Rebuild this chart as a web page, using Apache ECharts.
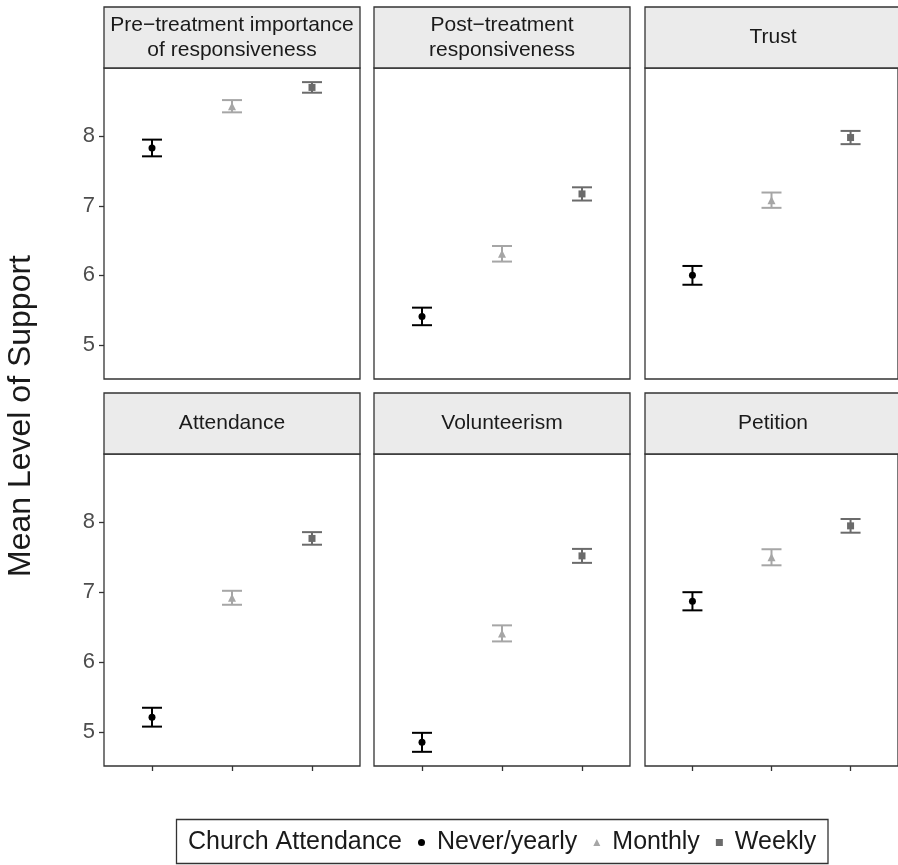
<!DOCTYPE html>
<html>
<head>
<meta charset="utf-8">
<script src="https://cdn.jsdelivr.net/npm/echarts@6/dist/echarts.min.js"></script>
<style>html,body{margin:0;padding:0;background:#fff}#c{width:898px;height:865px}</style>
</head>
<body>
<div id="c"></div>
<script>
// ---- data ----
const panels = ['Pre\u2212treatment importance\nof responsiveness', 'Post\u2212treatment\nresponsiveness', 'Trust', 'Attendance', 'Volunteerism', 'Petition'];
const groups = ['Never/yearly', 'Monthly', 'Weekly'];
const groupX = [1, 2, 3];
const neverMean = [7.83, 5.41, 6.00, 5.21, 4.85, 6.87];
const neverErr = [0.12, 0.126, 0.135, 0.135, 0.136, 0.13];
const monthlyMean = [8.43, 6.31, 7.08, 6.92, 6.41, 7.50];
const monthlyErr = [0.088, 0.112, 0.11, 0.10, 0.115, 0.115];
const weeklyMean = [8.70, 7.17, 7.98, 7.77, 7.52, 7.95];
const weeklyErr = [0.076, 0.095, 0.095, 0.09, 0.10, 0.098];
const yTicks = [5, 6, 7, 8];
const yMin = 4.511, yMax = 8.979;
const xMin = 0.4, xMax = 3.6;
const yTitle = 'Mean Level of Support';
const legendTitle = 'Church Attendance';

// ---- styling / layout ----
const FONT = 'Liberation Sans, Arial, Helvetica, sans-serif';
const groupColors = ['#000000', '#A6A6A6', '#6B6B6B'];
const groupSymbols = ['circle', 'triangle', 'rect'];
const groupSymbolSize = [7, 8, 7];
const means = [neverMean, monthlyMean, weeklyMean];
const errs = [neverErr, monthlyErr, weeklyErr];
const colLeft = [104, 374, 645];
const panelW = 256;
const rowTop = [68, 454];
const panelH = [311, 312];
const stripTop = [7, 393];
const stripH = 61;

const grids = [], xAxes = [], yAxes = [], series = [], graphics = [];
panels.forEach((title, i) => {
  const col = i % 3, row = Math.floor(i / 3);
  grids.push({
    left: colLeft[col], top: rowTop[row], width: panelW, height: panelH[row],
    show: true, borderColor: '#333333', borderWidth: 1.3, backgroundColor: '#ffffff',
    containLabel: false
  });
  xAxes.push({
    type: 'value', gridIndex: i, min: xMin, max: xMax,
    axisLine: { show: false }, splitLine: { show: false },
    axisTick: { show: row === 1, customValues: groupX, length: 5, lineStyle: { color: '#333333', width: 1.3 } },
    axisLabel: { show: false }
  });
  yAxes.push({
    type: 'value', gridIndex: i, min: yMin, max: yMax,
    axisLine: { show: false }, splitLine: { show: false },
    axisTick: { show: col === 0, customValues: yTicks, length: 5, lineStyle: { color: '#333333', width: 1.3 } },
    axisLabel: { show: col === 0, customValues: yTicks, margin: 9, color: '#4D4D4D', fontSize: 22, fontFamily: FONT }
  });
  groups.forEach((g, k) => {
    const m = means[k][i], e = errs[k][i];
    series.push({
      type: 'custom', name: g, xAxisIndex: i, yAxisIndex: i, silent: true,
      encode: { x: 0, y: [1, 2] },
      data: [[groupX[k], m - e, m + e]],
      renderItem: (params, api) => {
        const x = api.value(0);
        const lo = api.coord([x, api.value(1)]);
        const hi = api.coord([x, api.value(2)]);
        const hw = 10;
        const st = { stroke: groupColors[k], lineWidth: 2 };
        return { type: 'group', children: [
          { type: 'line', shape: { x1: hi[0], y1: hi[1], x2: lo[0], y2: lo[1] }, style: st },
          { type: 'line', shape: { x1: hi[0] - hw, y1: hi[1], x2: hi[0] + hw, y2: hi[1] }, style: st },
          { type: 'line', shape: { x1: lo[0] - hw, y1: lo[1], x2: lo[0] + hw, y2: lo[1] }, style: st }
        ] };
      },
      z: 2
    });
    series.push({
      type: 'scatter', name: g, xAxisIndex: i, yAxisIndex: i, silent: true,
      symbol: groupSymbols[k], symbolSize: groupSymbolSize[k],
      itemStyle: { color: groupColors[k], opacity: 1 },
      data: [[groupX[k], m]], z: 3
    });
  });
  graphics.push({
    type: 'rect', shape: { x: colLeft[col], y: stripTop[row], width: panelW, height: stripH },
    style: { fill: '#EBEBEB', stroke: '#333333', lineWidth: 1.3 }, z: 1
  });
  graphics.push({
    type: 'text', x: colLeft[col] + panelW / 2, y: stripTop[row] + stripH / 2,
    style: { text: title, fill: '#1A1A1A', font: '21px ' + FONT, align: 'center', verticalAlign: 'middle', lineHeight: 24.5 }, z: 2
  });
});

graphics.push({
  type: 'text', x: 21, y: 416, rotation: Math.PI / 2,
  style: { text: yTitle, fill: '#1A1A1A', font: '32px ' + FONT, align: 'center', verticalAlign: 'middle' }
});
graphics.push({
  type: 'rect', shape: { x: 176.5, y: 819.5, width: 651.5, height: 44 },
  style: { fill: 'none', stroke: '#333333', lineWidth: 1.3 }
});
graphics.push({
  type: 'text', x: 188, y: 842.5,
  style: { text: legendTitle, fill: '#1A1A1A', font: '25px ' + FONT, align: 'left', verticalAlign: 'middle' }
});

const chart = echarts.init(document.getElementById('c'), null, { renderer: 'canvas' });
chart.setOption({
  animation: false,
  backgroundColor: '#ffffff',
  grid: grids, xAxis: xAxes, yAxis: yAxes, series: series,
  legend: {
    left: 418, top: 830, orient: 'horizontal', padding: 0,
    itemWidth: 7, itemHeight: 7, itemGap: 16, selectedMode: false,
    textStyle: { fontSize: 25, fontFamily: FONT, color: '#1A1A1A', lineHeight: 25, padding: [0, 0, 0, 7] },
    data: groups.map((g, k) => ({ name: g, icon: groupSymbols[k], itemStyle: { color: groupColors[k] } }))
  },
  graphic: { elements: graphics }
});
</script>
</body>
</html>
